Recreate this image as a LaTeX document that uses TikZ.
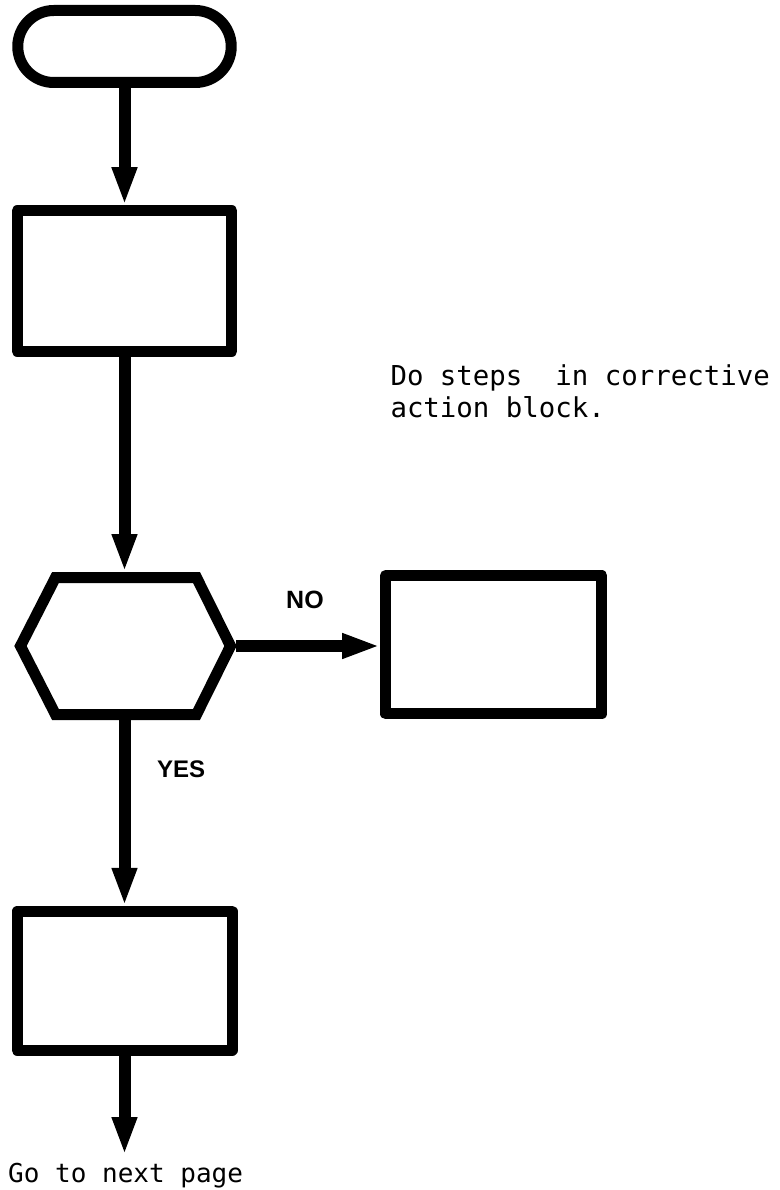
\documentclass[tikz,border=0pt]{standalone}
\usepackage{fontspec}
\usetikzlibrary{arrows.meta,calc}
\newfontfamily\labelfont{Liberation Sans}
\newfontfamily\notefont{DejaVu Sans Mono}
\begin{document}
\begin{tikzpicture}[x=1pt,y=-1pt,
  block/.style={draw, line width=11pt, line join=round, inner sep=0pt, outer sep=5.5pt},
  flow/.style={line width=12pt, -{Triangle[length=38pt,width=23pt]}},
  answer/.style={anchor=base west, inner sep=0pt, font=\labelfont\bfseries\fontsize{25}{30}\selectfont},
  note/.style={anchor=base west, inner sep=0pt, font=\notefont\fontsize{27.4}{32}\selectfont}]
\useasboundingbox (0,0) rectangle (779,1190);

% flow chart blocks
\node[block, rounded corners=36pt, minimum width=213.5pt, minimum height=72pt] (start) at (124.5,46.5) {};
\node[block, minimum width=214.6pt, minimum height=140.5pt] (box1) at (124.5,281) {};
\node[inner sep=0pt, outer sep=0pt, minimum width=221pt, minimum height=148pt] (test) at (125.5,646) {};
\draw[line width=11pt, line join=miter]
  ($(test.center)+(-105,0)$) -- ($(test.center)+(-70,-68.5)$) --
  ($(test.center)+(71,-68.5)$) -- ($(test.center)+(105,0)$) --
  ($(test.center)+(71,68.5)$) -- ($(test.center)+(-70,68.5)$) -- cycle;
\node[block, minimum width=216.3pt, minimum height=138.3pt] (fix) at (493.7,644.7) {};
\node[block, minimum width=215pt, minimum height=138.7pt] (box3) at (124.5,980.7) {};
\coordinate (next) at (124.5,1155);

% connectors
\draw[flow] (start.south) -- (start.south |- box1.north);
\draw[flow] (box1.south) -- (box1.south |- test.north);
\draw[flow] (test.east) -- (test.east -| fix.west);
\draw[flow] (box1.south |- test.south) -- (box3.north);
\draw[flow] (box3.south) -- (next);

% labels
\node[answer] (no) at (286,608) {NO};
\node[answer, font=\labelfont\bfseries\fontsize{24}{30}\selectfont] (yes) at (157,777) {YES};
\node[note] (note1) at (390.3,385) {Do steps~~in corrective};
\node[note] (note2) at (390.3,417) {action block.};
\node[anchor=base west, inner sep=0pt, font=\notefont\fontsize{26}{30}\selectfont] (goto) at (8,1182) {Go to next page};
\end{tikzpicture}
\end{document}
